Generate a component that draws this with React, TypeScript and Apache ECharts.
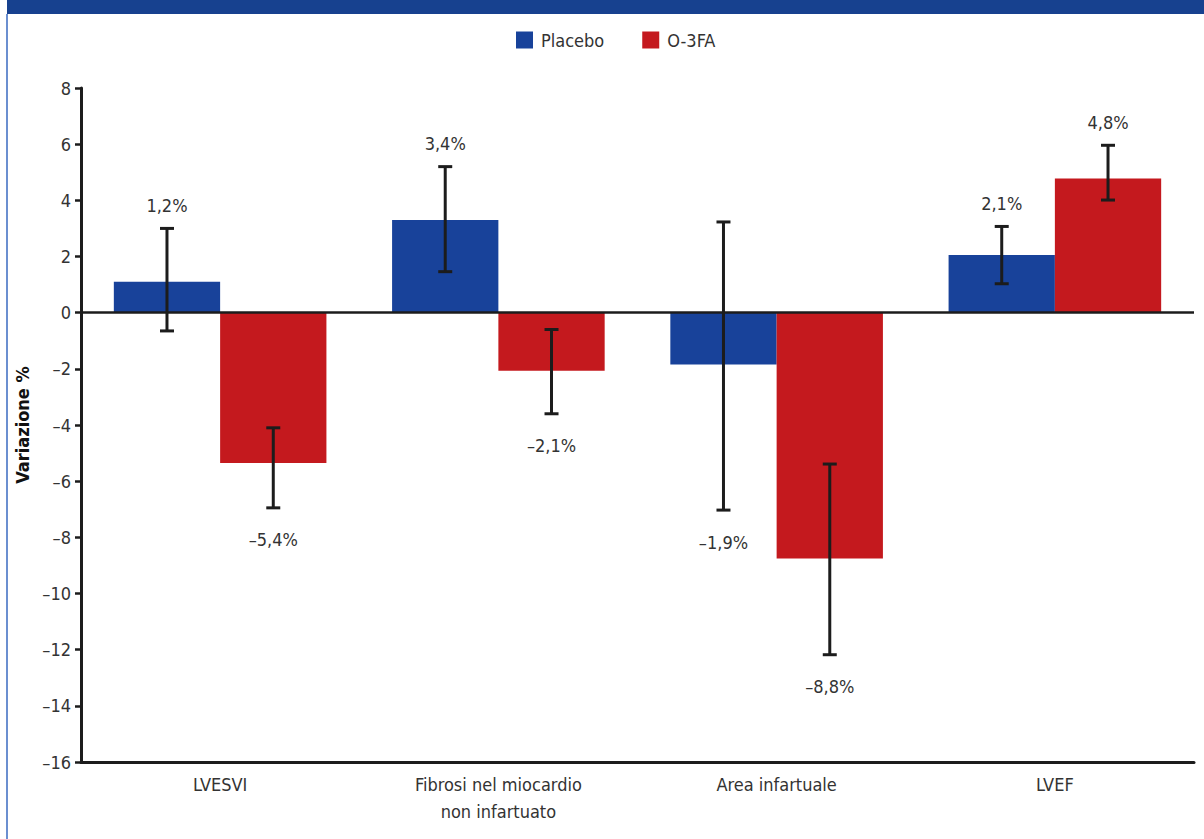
import React, { useEffect, useRef } from "react";
import * as echarts from "echarts";

const categories = ["LVESVI", "Fibrosi nel miocardio\nnon infartuato", "Area infartuale", "LVEF"];
const placeboValues = [1.1, 3.3, -1.85, 2.05];
const omegaValues = [-5.35, -2.07, -8.75, 4.78];
const placeboErrLow = [-0.65, 1.46, -7.03, 1.03];
const placeboErrHigh = [3.0, 5.2, 3.23, 3.07];
const omegaErrLow = [-6.95, -3.6, -12.18, 4.01];
const omegaErrHigh = [-4.1, -0.6, -5.39, 5.96];
const placeboLabels = ["1,2%", "3,4%", "–1,9%", "2,1%"];
const omegaLabels = ["–5,4%", "–2,1%", "–8,8%", "4,8%"];
const yTicks = { min: -16, max: 8, interval: 2 };

const FONT = "'Liberation Sans Narrow', 'DejaVu Sans Condensed', 'Liberation Sans', sans-serif";
const BLUE = "#18429a";
const RED = "#c4191e";
const DARK = "#1c1c1c";
const BAR_FRAC = 0.382;

function errSeries(name: string, low: number[], high: number[], vals: number[], labels: string[], side: number) {
  return {
    type: "custom",
    name: name + "-err",
    silent: true,
    z: 5,
    data: low.map((l, i) => [i, l, high[i], vals[i]]),
    encode: { x: 0, y: [1, 2] },
    renderItem: (params: any, api: any) => {
      const i = api.value(0);
      const lo = api.value(1);
      const hi = api.value(2);
      const v = api.value(3);
      const band = api.size([1, 0])[0];
      const c = api.coord([i, 0]);
      const x = c[0] + side * band * BAR_FRAC / 2;
      const pLo = api.coord([i, lo])[1];
      const pHi = api.coord([i, hi])[1];
      const cap = 7;
      const style = { stroke: DARK, lineWidth: 3 };
      const ly = v >= 0 ? pHi - 23 : pLo + 32;
      return {
        type: "group",
        children: [
          { type: "line", shape: { x1: x, y1: pLo, x2: x, y2: pHi }, style },
          { type: "line", shape: { x1: x - cap, y1: pLo, x2: x + cap, y2: pLo }, style },
          { type: "line", shape: { x1: x - cap, y1: pHi, x2: x + cap, y2: pHi }, style },
          {
            type: "text",
            style: {
              text: labels[i],
              x,
              y: ly,
              align: "center",
              verticalAlign: "middle",
              fill: "#333",
              font: "18px " + FONT,
            },
          },
        ],
      };
    },
  };
}

export default function App() {
  const ref = useRef<HTMLDivElement>(null);
  useEffect(() => {
    if (!ref.current) return;
    const chart = echarts.init(ref.current, null, { renderer: "svg" });
    chart.setOption({
      animation: false,
      backgroundColor: "#fff",
      textStyle: { fontFamily: FONT },
      graphic: [
        { type: "rect", shape: { x: 7, y: 0, width: 1197, height: 14 }, style: { fill: "#17418f" } },
        { type: "rect", shape: { x: 6, y: 14, width: 2, height: 825 }, style: { fill: "#6b8fd0" } },
      ],
      legend: {
        top: 26,
        left: 511,
        itemWidth: 17,
        itemHeight: 17,
        itemGap: 38,
        icon: "rect",
        data: ["Placebo", "O-3FA"],
        textStyle: { fontSize: 18, color: "#333", fontFamily: FONT, padding: [0, 0, 0, 3] },
      },
      grid: { left: 81, right: 10, top: 88, bottom: 77, containLabel: false },
      xAxis: {
        type: "category",
        data: categories,
        axisLine: { onZero: false, lineStyle: { color: DARK, width: 3 } },
        axisTick: { length: 7, lineStyle: { color: DARK, width: 2.5 } },
        axisLabel: { fontSize: 18, color: "#333", margin: 9, lineHeight: 27, fontFamily: FONT },
      },
      yAxis: {
        type: "value",
        min: yTicks.min,
        max: yTicks.max,
        interval: yTicks.interval,
        name: "Variazione %",
        nameLocation: "middle",
        nameGap: 47,
        nameTextStyle: { fontSize: 18, fontWeight: "bold", color: "#111", fontFamily: FONT },
        axisLine: { show: true, lineStyle: { color: DARK, width: 3 } },
        axisTick: { show: true, length: 6, lineStyle: { color: DARK, width: 2.5 } },
        splitLine: { show: false },
        axisLabel: {
          fontSize: 18,
          color: "#333",
          margin: 10,
          fontFamily: FONT,
          formatter: (v: number) => (v < 0 ? "–" + Math.abs(v) : String(v)),
        },
      },
      series: [
        {
          type: "bar",
          name: "Placebo",
          data: placeboValues,
          barWidth: BAR_FRAC * 100 + "%",
          barGap: "0%",
          itemStyle: { color: BLUE },
          markLine: {
            silent: true,
            symbol: "none",
            label: { show: false },
            lineStyle: { color: DARK, width: 2.5, type: "solid" },
            data: [{ yAxis: 0 }],
          },
        },
        {
          type: "bar",
          name: "O-3FA",
          data: omegaValues,
          barWidth: BAR_FRAC * 100 + "%",
          barGap: "0%",
          itemStyle: { color: RED },
        },
        errSeries("Placebo", placeboErrLow, placeboErrHigh, placeboValues, placeboLabels, -1),
        errSeries("O-3FA", omegaErrLow, omegaErrHigh, omegaValues, omegaLabels, 1),
      ],
    });
    return () => chart.dispose();
  }, []);
  return <div ref={ref} style={{ position: "fixed", left: 0, top: 0, width: 1204, height: 839 }} />;
}
